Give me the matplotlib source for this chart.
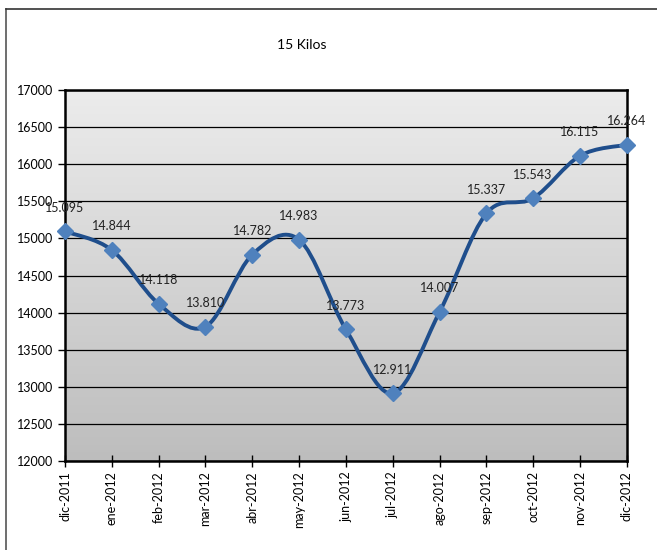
import numpy as np
import matplotlib.pyplot as plt
from matplotlib.path import Path
from matplotlib.patches import PathPatch
from matplotlib.lines import Line2D
from matplotlib.colors import LinearSegmentedColormap

plt.rcParams['font.family'] = ['Lato', 'DejaVu Sans']

meses = ["dic-2011", "ene-2012", "feb-2012", "mar-2012", "abr-2012", "may-2012",
         "jun-2012", "jul-2012", "ago-2012", "sep-2012", "oct-2012", "nov-2012", "dic-2012"]
precios = [15095, 14844, 14118, 13810, 14782, 14983, 13773, 12911, 14007,
           15337, 15543, 16115, 16264]
etiquetas = ["15.095", "14.844", "14.118", "13.810", "14.782", "14.983", "13.773",
             "12.911", "14.007", "15.337", "15.543", "16.115", "16.264"]


def curva_suave(x, y):
    # bezier tipo excel (catmull-rom)
    n = len(x)
    verts = [(x[0], y[0])]
    codes = [Path.MOVETO]
    for i in range(n - 1):
        x0, y0 = (x[i - 1], y[i - 1]) if i > 0 else (x[i], y[i])
        x3, y3 = (x[i + 2], y[i + 2]) if i + 2 < n else (x[i + 1], y[i + 1])
        c1 = (x[i] + (x[i + 1] - x0) / 6, y[i] + (y[i + 1] - y0) / 6)
        c2 = (x[i + 1] - (x3 - x[i]) / 6, y[i + 1] - (y3 - y[i]) / 6)
        verts += [c1, c2, (x[i + 1], y[i + 1])]
        codes += [Path.CURVE4] * 3
    return Path(verts, codes)


fig = plt.figure(figsize=(6.57, 5.5), dpi=100)
ax = fig.add_axes([0.099, 0.162, 0.855, 0.674])

x = np.arange(len(meses))

# fondo degradado: claro arriba, gris abajo
grad = np.linspace(0, 1, 256).reshape(-1, 1)
cmap = LinearSegmentedColormap.from_list("g", ["#ececec", "#bdbdbd"])
ax.imshow(grad, cmap=cmap, aspect="auto", origin="upper",
          extent=[0, len(meses) - 1, 12000, 17000], zorder=0)
ax.set_xlim(0, len(meses) - 1)
ax.set_ylim(12000, 17000)

ax.set_yticks(np.arange(12000, 17001, 500))
ax.grid(axis="y", color="black", linewidth=0.9, zorder=1)
ax.set_axisbelow(False)

ax.add_patch(PathPatch(curva_suave(x, precios), facecolor="none",
                       edgecolor="#1f4e8c", linewidth=2.8, zorder=3))
ax.plot(x, precios, linestyle="none", marker="D", markersize=8.5,
        color="#4f81bd", zorder=4, clip_on=False)

for xi, yi, t in zip(x, precios, etiquetas):
    ax.annotate(t, (xi, yi), xytext=(0, 17), textcoords="offset points",
                ha="center", va="center", fontsize=9, color="#222222", zorder=5)

ax.set_xticks(x)
ax.set_xticklabels(meses, rotation=90, fontsize=9)
ax.tick_params(axis="x", direction="inout", length=8, width=1)
ax.tick_params(axis="y", direction="out", length=5, width=1, labelsize=9)
for s in ax.spines.values():
    s.set_linewidth(1.8)

fig.text(0.46, 0.918, "15 Kilos", ha="center", va="center", fontsize=10)

fig.add_artist(Line2D([0.009, 0.009], [0, 0.984], color="#555555", linewidth=1.2))
fig.add_artist(Line2D([0.009, 1], [0.984, 0.984], color="#333333", linewidth=1.2))

fig.savefig("out.png", dpi=100)
